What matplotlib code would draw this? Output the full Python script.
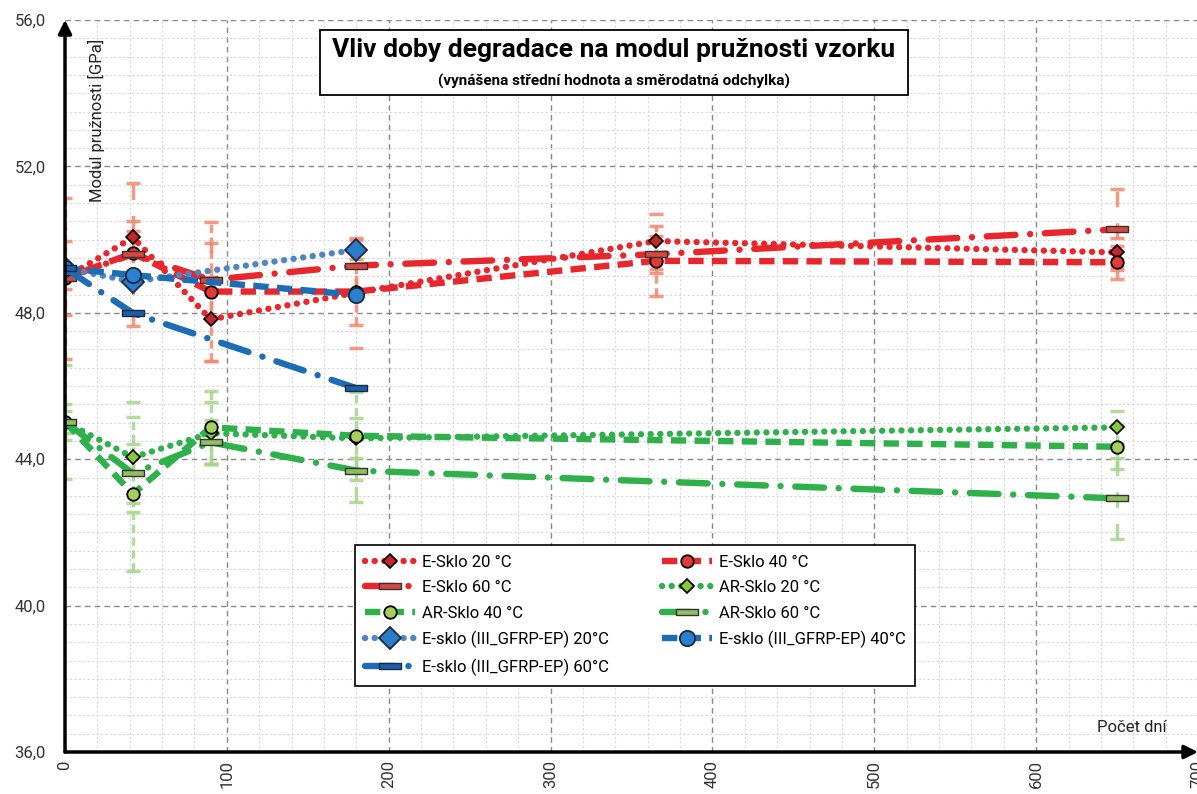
import numpy as np
import matplotlib.pyplot as plt
from matplotlib.patches import Rectangle

plt.rcParams['font.family'] = ['Roboto', 'DejaVu Sans']

# days of exposure
days_e = [0, 42, 90, 180, 365, 650]
days_ar = [0, 42, 90, 180, 650]
days_b = [0, 42, 180]

# E-Sklo (mean, std)
e20 = [48.95, 50.06, 47.82, 48.55, 49.96, 49.65]
e20_sd = [0.3, 0.45, 1.15, 1.5, 0.75, 0.4]
e40 = [48.95, 49.63, 48.58, 48.58, 49.42, 49.38]
e40_sd = [2.2, 0.6, 1.9, 0.9, 0.95, 0.45]
e60 = [48.95, 49.6, 48.9, 49.29, 49.6, 50.28]
e60_sd = [1.0, 1.95, 1.0, 0.7, 0.5, 1.1]

# AR-Sklo
ar20 = [45.02, 44.05, 44.71, 44.57, 44.87]
ar20_sd = [0.3, 1.5, 0.85, 0.55, 0.45]
ar40 = [45.02, 43.05, 44.87, 44.64, 44.34]
ar40_sd = [1.55, 2.1, 1.0, 1.2, 0.6]
ar60 = [45.02, 43.61, 44.46, 43.69, 42.93]
ar60_sd = [0.5, 0.8, 0.6, 0.85, 1.1]

# E-sklo (III_GFRP-EP)
b20 = [49.22, 48.85, 49.72]
b40 = [49.22, 49.03, 48.49]
b60 = [49.22, 47.99, 45.94]

labels = ["E-Sklo 20 °C", "E-Sklo 40 °C", "E-Sklo 60 °C",
          "AR-Sklo 20 °C", "AR-Sklo 40 °C", "AR-Sklo 60 °C",
          "E-sklo (III_GFRP-EP) 20°C", "E-sklo (III_GFRP-EP) 40°C",
          "E-sklo (III_GFRP-EP) 60°C"]

RED = '#e8262b'
GREEN = '#2eb04b'
BLUE = '#1c6db5'
BLUE_L = '#4f86c2'
RED_ERR = '#f2896f'
GREEN_ERR = '#a8d48c'

dot = (0, (0.01, 1.5))
dash = (0, (2.4, 1.3))
dashdot = (0, (4.5, 2.3, 0.01, 2.3))
bar = [(-1, -0.28), (1, -0.28), (1, 0.28), (-1, 0.28), (-1, -0.28)]

fig = plt.figure(figsize=(11.97, 7.94), dpi=100)
ax = fig.add_axes([65 / 1197, 42 / 794, 1133 / 1197, 732 / 794])


def err(x, y, sd, col, ls):
    c = ax.errorbar(x, y, yerr=sd, fmt='none', ecolor=col, elinewidth=2.5,
                    capsize=5, capthick=2.5, zorder=2, alpha=0.85)
    for lc in c[2]:
        lc.set_linestyle(ls)


err(days_e, e20, e20_sd, RED_ERR, dot)
err(days_e, e40, e40_sd, RED_ERR, dash)
err(days_e, e60, e60_sd, RED_ERR, dashdot)
err(days_ar, ar20, ar20_sd, GREEN_ERR, dot)
err(days_ar, ar40, ar40_sd, GREEN_ERR, dash)
err(days_ar, ar60, ar60_sd, GREEN_ERR, dashdot)

lw = 4.6
h = {}
h[0], = ax.plot(days_e, e20, color=RED, lw=lw, ls=dot, dash_capstyle='round',
                marker='D', ms=7, mfc='#c4262c', mec='black', mew=1.2, zorder=4)
h[1], = ax.plot(days_e, e40, color=RED, lw=lw, ls=dash,
                marker='o', ms=9, mfc='#e33a35', mec='black', mew=1.3, zorder=4)
h[2], = ax.plot(days_e, e60, color=RED, lw=lw, ls=dashdot, dash_capstyle='round',
                marker=bar, ms=16, mfc='#d8473f', mec='#333333', mew=1.0, zorder=4)
h[3], = ax.plot(days_ar, ar20, color=GREEN, lw=lw, ls=dot, dash_capstyle='round',
                marker='D', ms=7, mfc='#8cc63f', mec='black', mew=1.2, zorder=4)
h[4], = ax.plot(days_ar, ar40, color=GREEN, lw=lw, ls=dash,
                marker='o', ms=9, mfc='#a5d15a', mec='black', mew=1.3, zorder=4)
h[5], = ax.plot(days_ar, ar60, color=GREEN, lw=lw, ls=dashdot, dash_capstyle='round',
                marker=bar, ms=16, mfc='#8fbf62', mec='#333333', mew=1.0, zorder=4)
h[6], = ax.plot(days_b, b20, color=BLUE_L, lw=lw, ls=dot, dash_capstyle='round',
                marker='D', ms=11, mfc='#2a7cc6', mec='#1a2a40', mew=1.3, zorder=5)
h[7], = ax.plot(days_b, b40, color=BLUE, lw=lw, ls=dash,
                marker='o', ms=11, mfc='#2a80d0', mec='#1a2a40', mew=1.3, zorder=5)
h[8], = ax.plot(days_b, b60, color=BLUE, lw=lw, ls=dashdot, dash_capstyle='round',
                marker=bar, ms=16, mfc='#1c5fa8', mec='#1a2a40', mew=1.0, zorder=5)

ax.set_xlim(0, 700)
ax.set_ylim(36, 56)
ax.set_xticks(np.arange(0, 701, 100))
ax.set_xticks(np.arange(0, 701, 20), minor=True)
ax.set_yticks(np.arange(36, 56.1, 4))
ax.set_yticks(np.arange(36, 56.1, 0.5), minor=True)
ax.set_yticklabels([f"{v:.1f}".replace('.', ',') for v in np.arange(36, 56.1, 4)])
ax.tick_params(axis='x', labelrotation=90, labelsize=12, length=0, pad=6,
               labelcolor='#333333')
ax.tick_params(axis='y', labelsize=12, length=0, pad=14, labelcolor='#333333')
ax.tick_params(which='minor', length=0)
ax.grid(which='major', color='#888888', ls=(0, (4, 3)), lw=1.0)
ax.grid(which='minor', color='#d8d8d8', ls=(0, (2, 2)), lw=0.8)
ax.set_axisbelow(True)
for s in ['top', 'right', 'left', 'bottom']:
    ax.spines[s].set_visible(False)

# axis arrows
ax.annotate('', xy=(0, 1.0), xytext=(0, 0), xycoords='axes fraction',
            arrowprops=dict(arrowstyle='-|>', color='black', lw=2.5,
                            mutation_scale=20, shrinkA=0, shrinkB=0), zorder=6)
ax.annotate('', xy=(1.0, 0), xytext=(0, 0), xycoords='axes fraction',
            arrowprops=dict(arrowstyle='-|>', color='black', lw=2.5,
                            mutation_scale=20, shrinkA=0, shrinkB=0), zorder=6)

ax.text(0.0275, 0.975, "Modul pružnosti [GPa]", transform=ax.transAxes,
        rotation=90, ha='center', va='top', fontsize=12, color='#222222')
ax.text(0.972, 0.033, "Počet dní", transform=ax.transAxes,
        ha='right', va='center', fontsize=12, color='#222222')

# title box
fig.patches.append(Rectangle((320 / 1197, 1 - 95 / 794), 588 / 1197, 65 / 794,
                             transform=fig.transFigure, facecolor='white',
                             edgecolor='black', lw=1.3, zorder=10))
fig.text(614 / 1197, 1 - 50 / 794, "Vliv doby degradace na modul pružnosti vzorku",
         ha='center', va='center', fontsize=19, fontweight='bold', zorder=11)
fig.text(614 / 1197, 1 - 81 / 794, "(vynášena střední hodnota a směrodatná odchylka)",
         ha='center', va='center', fontsize=11, fontweight='bold', zorder=11)

order = [0, 2, 4, 6, 8, 1, 3, 5, 7]
leg = ax.legend([h[i] for i in order], [labels[i] for i in order], ncol=2,
                loc='upper left', bbox_to_anchor=(0.256, 0.283), borderaxespad=0,
                fontsize=12, frameon=True, fancybox=False, framealpha=1,
                edgecolor='black', handlelength=3.0, columnspacing=3.2,
                labelspacing=0.62, borderpad=0.6, handletextpad=0.4)
leg.get_frame().set_linewidth(1.2)
leg.set_zorder(10)

fig.savefig('out.png', dpi=100)
